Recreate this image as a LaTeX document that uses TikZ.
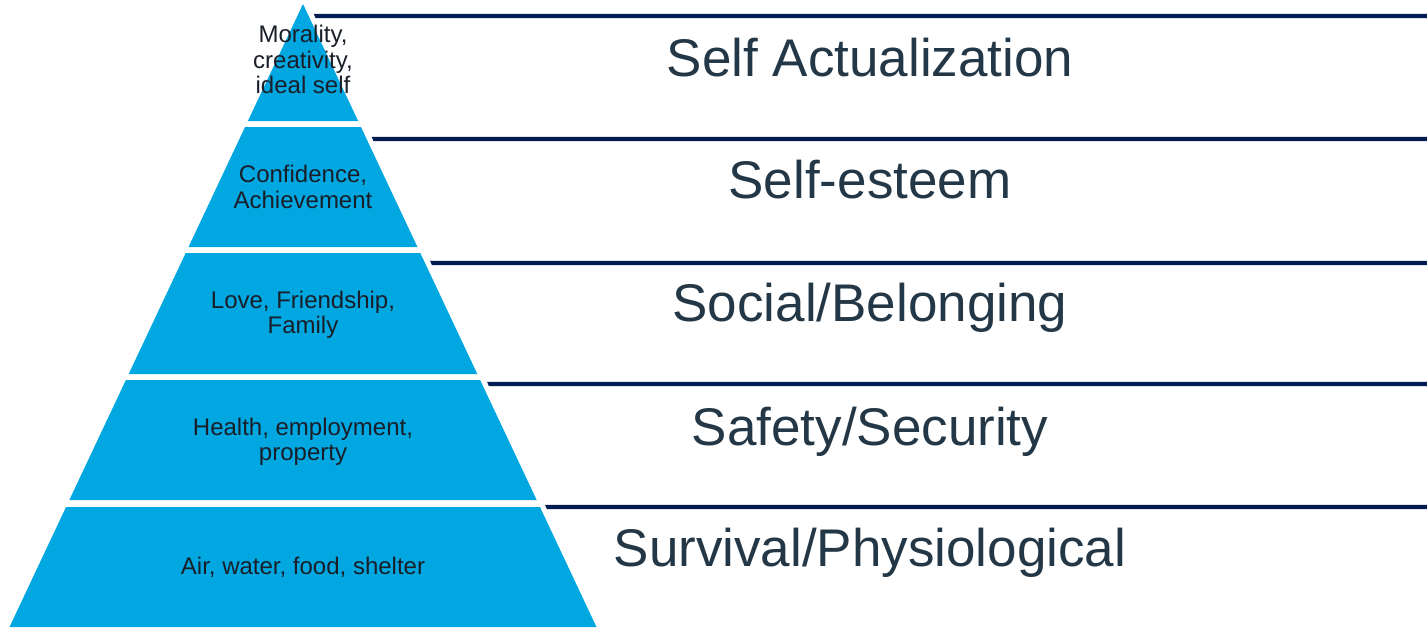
\documentclass[tikz,border=0pt]{standalone}
\usepackage{fontspec}
\setmainfont{Liberation Sans}
\definecolor{pyrblue}{RGB}{0,167,224}
\definecolor{navyline}{RGB}{0,28,80}
\definecolor{labelgray}{RGB}{35,55,70}
\definecolor{inktext}{RGB}{25,30,40}
\begin{document}
\begin{tikzpicture}[x=1pt, y=-1pt, band/.style={fill=pyrblue}, rule/.style={fill=navyline}, need/.style={text=inktext, align=center, font=\fontsize{24}{25.5}\selectfont, inner sep=0pt}, level/.style={text=labelgray, anchor=base, font=\fontsize{53}{60}\selectfont, inner sep=0pt}]

\useasboundingbox (0,0) rectangle (1427,627);

% pyramid bands, edge slope 0.4711 from the apex
\foreach \t/\b in {4/121, 127/247, 253/374, 380/500, 507/627}
  \fill[band] ({303-0.4711*(\t-4)},\t) -- ({303+0.4711*(\t-4)},\t) -- ({303+0.4711*(\b-4)},\b) -- ({303-0.4711*(\b-4)},\b) -- cycle;

% rules to the right of the pyramid
\foreach \y in {16, 139, 263, 384, 507}
  \fill[rule] ({309+0.4711*(\y-6)},\y-2.2) -- (1427,\y-2.2) -- (1427,\y+2.2) -- ({309+0.4711*(\y+2-4)},\y+2.2) -- cycle;

\node[need] (moral) at (303,59.5) {Morality,\\creativity,\\ideal self};
\node[need] (esteem) at (303,187) {Confidence,\\Achievement};
\node[need] (love) at (303,315) {Love, Friendship,\\Family};
\node[need] (health) at (303,442) {Health, employment,\\property};
\node[need] (basic) at (303,567) {Air, water, food, shelter};

\node[level] (selfact) at (870,76) {Self Actualization};
\node[level] (selfest) at (870,198) {Self-esteem};
\node[level] (social) at (870,321) {Social/Belonging};
\node[level] (safety) at (870,445) {Safety/Security};
\node[level] (survival) at (870,566) {Survival/Physiological};

\end{tikzpicture}
\end{document}
